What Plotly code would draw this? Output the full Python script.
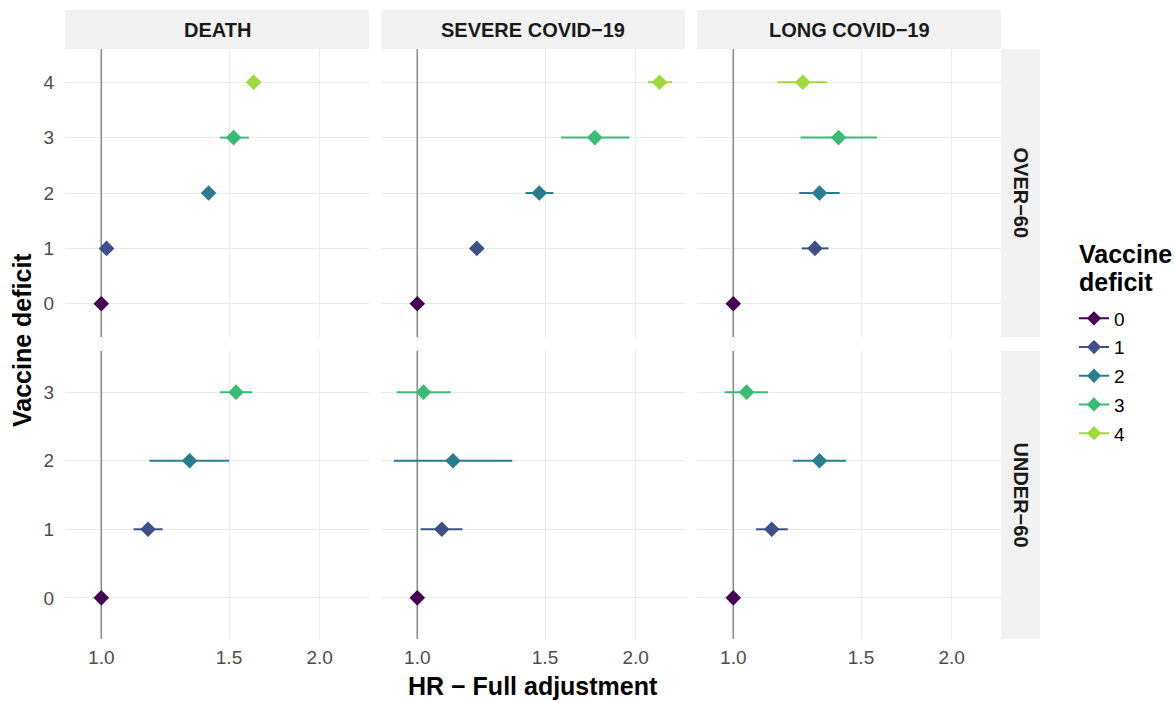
import plotly.graph_objects as go

# ---------------- data ----------------
levels = ["0", "1", "2", "3", "4"]
level_colors = ["#440154", "#3E4F8A", "#2A7D8E", "#3BBB75", "#9FDA3A"]
outcomes = ["DEATH", "SEVERE COVID\u221219", "LONG COVID\u221219"]
age_groups = ["OVER\u221260", "UNDER\u221260"]
legend_title_lines = ["Vaccine", "deficit"]
x_tick_vals = [1.0, 1.5, 2.0]
x_tick_text = ["1.0", "1.5", "2.0"]

death_over_hr = [1.0, 1.017, 1.406, 1.522, 1.622]
death_over_lo = [1.0, 1.005, 1.392, 1.458, 1.600]
death_over_hi = [1.0, 1.030, 1.420, 1.597, 1.645]

severe_over_hr = [1.0, 1.208, 1.473, 1.757, 2.158]
severe_over_lo = [1.0, 1.184, 1.410, 1.578, 2.080]
severe_over_hi = [1.0, 1.235, 1.540, 1.960, 2.245]

long_over_hr = [1.0, 1.296, 1.315, 1.397, 1.247]
long_over_lo = [1.0, 1.243, 1.233, 1.238, 1.151]
long_over_hi = [1.0, 1.353, 1.402, 1.577, 1.348]

death_under_hr = [1.0, 1.160, 1.324, 1.534]
death_under_lo = [1.0, 1.108, 1.165, 1.458]
death_under_hi = [1.0, 1.215, 1.501, 1.615]

severe_under_hr = [1.0, 1.081, 1.120, 1.020]
severe_under_lo = [1.0, 1.011, 0.928, 0.937]
severe_under_hi = [1.0, 1.154, 1.352, 1.112]

long_under_hr = [1.0, 1.130, 1.315, 1.043]
long_under_lo = [1.0, 1.075, 1.208, 0.973]
long_under_hi = [1.0, 1.189, 1.430, 1.117]

reference_hr = 1.0

panels = [
    (death_over_hr, death_over_lo, death_over_hi),
    (severe_over_hr, severe_over_lo, severe_over_hi),
    (long_over_hr, long_over_lo, long_over_hi),
    (death_under_hr, death_under_lo, death_under_hi),
    (severe_under_hr, severe_under_lo, severe_under_hi),
    (long_under_hr, long_under_lo, long_under_hi),
]

# ---------------- layout geometry (pixels) ----------------
W, H = 1175, 701
col_px = [(65, 369), (381, 685), (697, 1001)]
row_px = [(49, 337), (351, 639)]
row_yrange = [[-0.6, 4.6], [-0.6, 3.6]]
x_log_range = [-0.0500, 0.3691]

def fx(px):
    return px / W

def fy(py):
    return 1 - py / H

FONT = "Liberation Sans, Arial, Helvetica, sans-serif"
TICK_COL = "#4D4D4D"
GRID = "#EBEBEB"

fig = go.Figure()

# reference lines
for i in range(6):
    r = i // 3
    suf = "" if i == 0 else str(i + 1)
    fig.add_trace(go.Scatter(
        x=[reference_hr, reference_hr], y=row_yrange[r], mode="lines",
        line=dict(color="#8F8F8F", width=1.6), hoverinfo="skip",
        showlegend=False, xaxis="x" + suf, yaxis="y" + suf))

# data points with CIs
for i, (hr, lo, hi) in enumerate(panels):
    suf = "" if i == 0 else str(i + 1)
    for k in range(len(hr)):
        fig.add_trace(go.Scatter(
            x=[hr[k]], y=[k], mode="markers",
            marker=dict(symbol="diamond", size=12, color=level_colors[k]),
            error_x=dict(type="data", symmetric=False,
                         array=[hi[k] - hr[k]], arrayminus=[hr[k] - lo[k]],
                         color=level_colors[k], thickness=2, width=0),
            showlegend=False, xaxis="x" + suf, yaxis="y" + suf,
            name=levels[k]))

# legend entries
for k, lev in enumerate(levels):
    fig.add_trace(go.Scatter(
        x=[None], y=[None], mode="lines+markers", name=lev,
        line=dict(color=level_colors[k], width=2),
        marker=dict(symbol="diamond", size=11, color=level_colors[k]),
        legendgroup=lev, showlegend=True, xaxis="x", yaxis="y"))

layout = dict(
    width=W, height=H,
    margin=dict(l=0, r=0, t=0, b=0),
    paper_bgcolor="white", plot_bgcolor="white",
    font=dict(family=FONT, color=TICK_COL, size=19),
    showlegend=True,
    legend=dict(
        x=fx(1074), y=fy(299.5), xanchor="left", yanchor="top",
        font=dict(size=19, color="black", family=FONT),
        tracegroupgap=1, itemwidth=30, bgcolor="rgba(0,0,0,0)"),
)

for i in range(6):
    r, c = i // 3, i % 3
    suf = "" if i == 0 else str(i + 1)
    xa = dict(
        domain=[fx(col_px[c][0]), fx(col_px[c][1])],
        type="log", range=x_log_range, anchor="y" + suf,
        tickvals=x_tick_vals, ticktext=x_tick_text,
        showticklabels=(r == 1), showgrid=True, gridcolor=GRID, gridwidth=1,
        zeroline=False, showline=False, ticks="",
        tickfont=dict(size=19, color=TICK_COL, family=FONT),
        ticklabelstandoff=5)
    ya = dict(
        domain=[fy(row_px[r][1]), fy(row_px[r][0])],
        range=row_yrange[r], anchor="x" + suf,
        tickvals=list(range(len(panels[i][0]))),
        ticktext=levels[:len(panels[i][0])],
        showticklabels=(c == 0), showgrid=True, gridcolor=GRID, gridwidth=1,
        zeroline=False, showline=False, ticks="",
        tickfont=dict(size=19, color=TICK_COL, family=FONT),
        ticklabelstandoff=10)
    layout["xaxis" + suf] = xa
    layout["yaxis" + suf] = ya

shapes = []
annotations = []
STRIP = "#F2F2F2"
# top strips
for c, name in enumerate(outcomes):
    x0, x1 = col_px[c]
    shapes.append(dict(type="rect", xref="paper", yref="paper",
                       x0=fx(x0), x1=fx(x1), y0=fy(49), y1=fy(10),
                       fillcolor=STRIP, line=dict(width=0), layer="below"))
    annotations.append(dict(text="<b>%s</b>" % name, xref="paper", yref="paper",
                            x=fx((x0 + x1) / 2), y=fy(29.5), showarrow=False,
                            xanchor="center", yanchor="middle",
                            font=dict(size=20, color="#1A1A1A", family=FONT)))
# right strips
for r, name in enumerate(age_groups):
    y0, y1 = row_px[r]
    shapes.append(dict(type="rect", xref="paper", yref="paper",
                       x0=fx(1001), x1=fx(1040), y0=fy(y1), y1=fy(y0),
                       fillcolor=STRIP, line=dict(width=0), layer="below"))
    annotations.append(dict(text="<b>%s</b>" % name, xref="paper", yref="paper",
                            x=fx(1020.5), y=fy((y0 + y1) / 2), showarrow=False,
                            textangle=90, xanchor="center", yanchor="middle",
                            font=dict(size=20, color="#1A1A1A", family=FONT)))
# legend title (two lines)
for j, line in enumerate(legend_title_lines):
    annotations.append(dict(text="<b>%s</b>" % line, xref="paper", yref="paper",
                            x=fx(1077), y=fy(254 + 28 * j), showarrow=False,
                            xanchor="left", yanchor="middle",
                            font=dict(size=25, color="black", family=FONT)))
# axis titles
annotations.append(dict(text="<b>HR \u2212 Full adjustment</b>", xref="paper", yref="paper",
                        x=fx(533), y=fy(686), showarrow=False,
                        xanchor="center", yanchor="middle",
                        font=dict(size=25, color="black", family=FONT)))
annotations.append(dict(text="<b>Vaccine deficit</b>", xref="paper", yref="paper",
                        x=fx(22), y=fy(340), showarrow=False, textangle=-90,
                        xanchor="center", yanchor="middle",
                        font=dict(size=25, color="black", family=FONT)))

layout["shapes"] = shapes
layout["annotations"] = annotations
fig.update_layout(**layout)

fig.write_html("out.html", config={"displayModeBar": False},
               post_script="document.body.style.margin='0';document.body.style.padding='0';")
